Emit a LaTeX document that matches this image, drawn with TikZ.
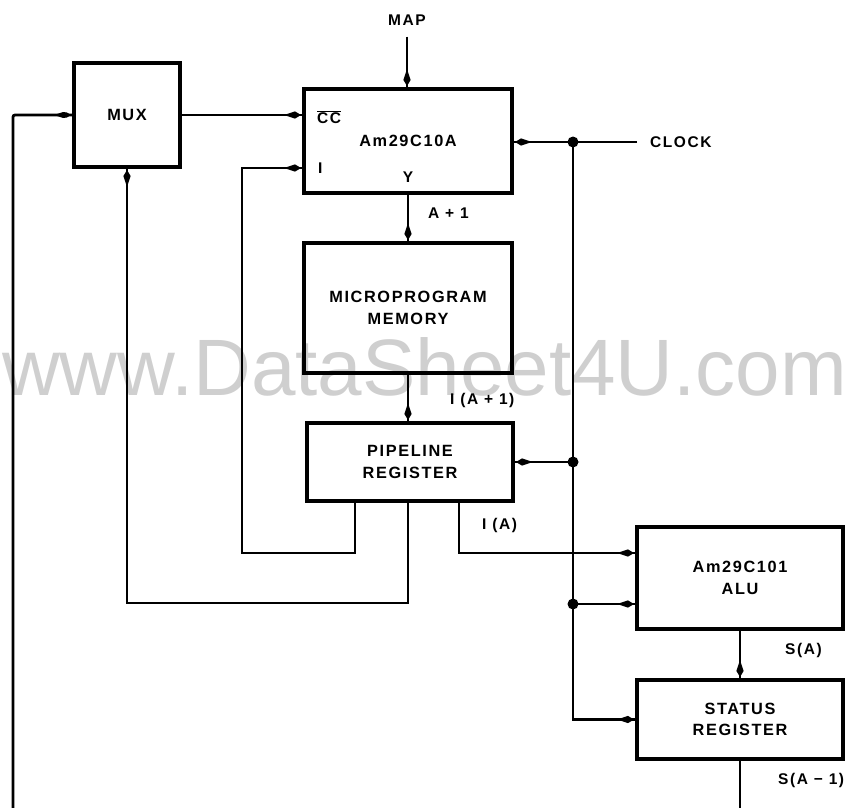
\documentclass[tikz,border=0pt]{standalone}
\usepackage{fontspec}
\setmainfont{Liberation Sans}
\newfontfamily\diag[LetterSpace=10]{Liberation Sans}
\usetikzlibrary{arrows.meta,decorations.markings}
\begin{document}
\begin{tikzpicture}[x=1pt,y=-1pt,
  box/.style={draw,line width=4.2pt,rectangle,outer sep=0pt,inner sep=0pt,align=center,
    font=\diag\bfseries\fontsize{16.3}{21.5}\selectfont},
  lbl/.style={font=\diag\bfseries\fontsize{15.5}{18}\selectfont,inner sep=0pt},
  conn/.style={line width=2.8pt},
  arr/.style={conn,postaction={decorate},decoration={markings,
    mark=at position -3pt with {\fill (0pt,0pt) -- (-6pt,3.6pt) -- (-17pt,0pt) -- (-6pt,-3.6pt) -- cycle;}}},
  dot/.style={circle,fill,inner sep=0pt,minimum size=11pt}]
\useasboundingbox (0,0) rectangle (846,808);
% watermark
\node[anchor=base west,inner sep=0pt,text=black!19,font=\fontsize{80}{80}\selectfont] (wm) at (2,395) {www.DataSheet4U.com};
% boxes
\node[box,minimum width=106pt,minimum height=104pt] (mux) at (127,115) {MUX};
\node[box,minimum width=208pt,minimum height=104pt] (am) at (408,141) {Am29C10A};
\node[box,minimum width=208pt,minimum height=130pt] (mem) at (408,308) {MICROPROGRAM\\MEMORY};
\node[box,minimum width=206pt,minimum height=78pt] (pipe) at (410,462) {PIPELINE\\REGISTER};
\node[box,minimum width=206pt,minimum height=102pt] (alu) at (740,578) {Am29C101\\ALU};
\node[box,minimum width=206pt,minimum height=79pt] (stat) at (740,719.5) {STATUS\\REGISTER};
% labels inside Am29C10A
\node[lbl,anchor=west] (cc) at (317,117) {$\overline{\mbox{CC}}$};
\node[lbl,anchor=west] (il) at (318,168) {I};
\node[lbl] (y) at (408,177) {Y};
% outer labels
\node[lbl] (map) at (407,20) {MAP};
\node[lbl,anchor=west] (clock) at (650,142) {CLOCK};
\node[lbl,anchor=west] (ap1) at (428,213) {A + 1};
\node[lbl,anchor=west] (iap1) at (450,400) {I (A + 1)};
\node[lbl,anchor=west] (ia) at (482,525) {I (A)};
\node[lbl,anchor=west] (sa) at (785,650) {S(A)};
\node[lbl,anchor=west] (sam1) at (778,780) {S(A − 1)};
% coordinates
\coordinate (j1) at (573,142);
\coordinate (j2) at (573,462);
\coordinate (j3) at (573,604);
\coordinate (ca) at (459,553);
\coordinate (c1) at (355,553);
\coordinate (c2) at (242,168);
\coordinate (c3) at (127,603);
\coordinate (lb) at (13,808);
\coordinate (sb) at (740,808);
\coordinate (ck) at (637,142);
% connectors
\draw[arr,shorten <=11pt] (map.south) -- (map.south |- am.north);
\draw[arr] (mux.east) -- (mux.east -| am.west);
\draw[arr] (ck) -- (ck -| am.east);
\draw[arr] (j1) |- (stat.west);
\draw[arr] (j2) -- (pipe.east);
\draw[arr] (j3) -- (j3 -| alu.west);
\draw[arr] (pipe.south -| ca) |- (ca -| alu.west);
\draw[arr] (am.south) -- (mem.north);
\draw[arr] (mem.south) -- (mem.south |- pipe.north);
\draw[arr] (pipe.south -| c1) |- (c2 |- c1) -- (c2) -- (c2 -| am.west);
\draw[arr] (pipe.south -| mem.south) |- (c3) -- (mux.south);
\draw[arr,rounded corners=2pt] (lb) |- (mux.west);
\draw[arr] (alu.south) -- (stat.north);
\draw[conn] (stat.south) -- (sb);
% junction dots
\node[dot] (d1) at (j1) {};
\node[dot] (d2) at (j2) {};
\node[dot] (d3) at (j3) {};
\end{tikzpicture}
\end{document}
